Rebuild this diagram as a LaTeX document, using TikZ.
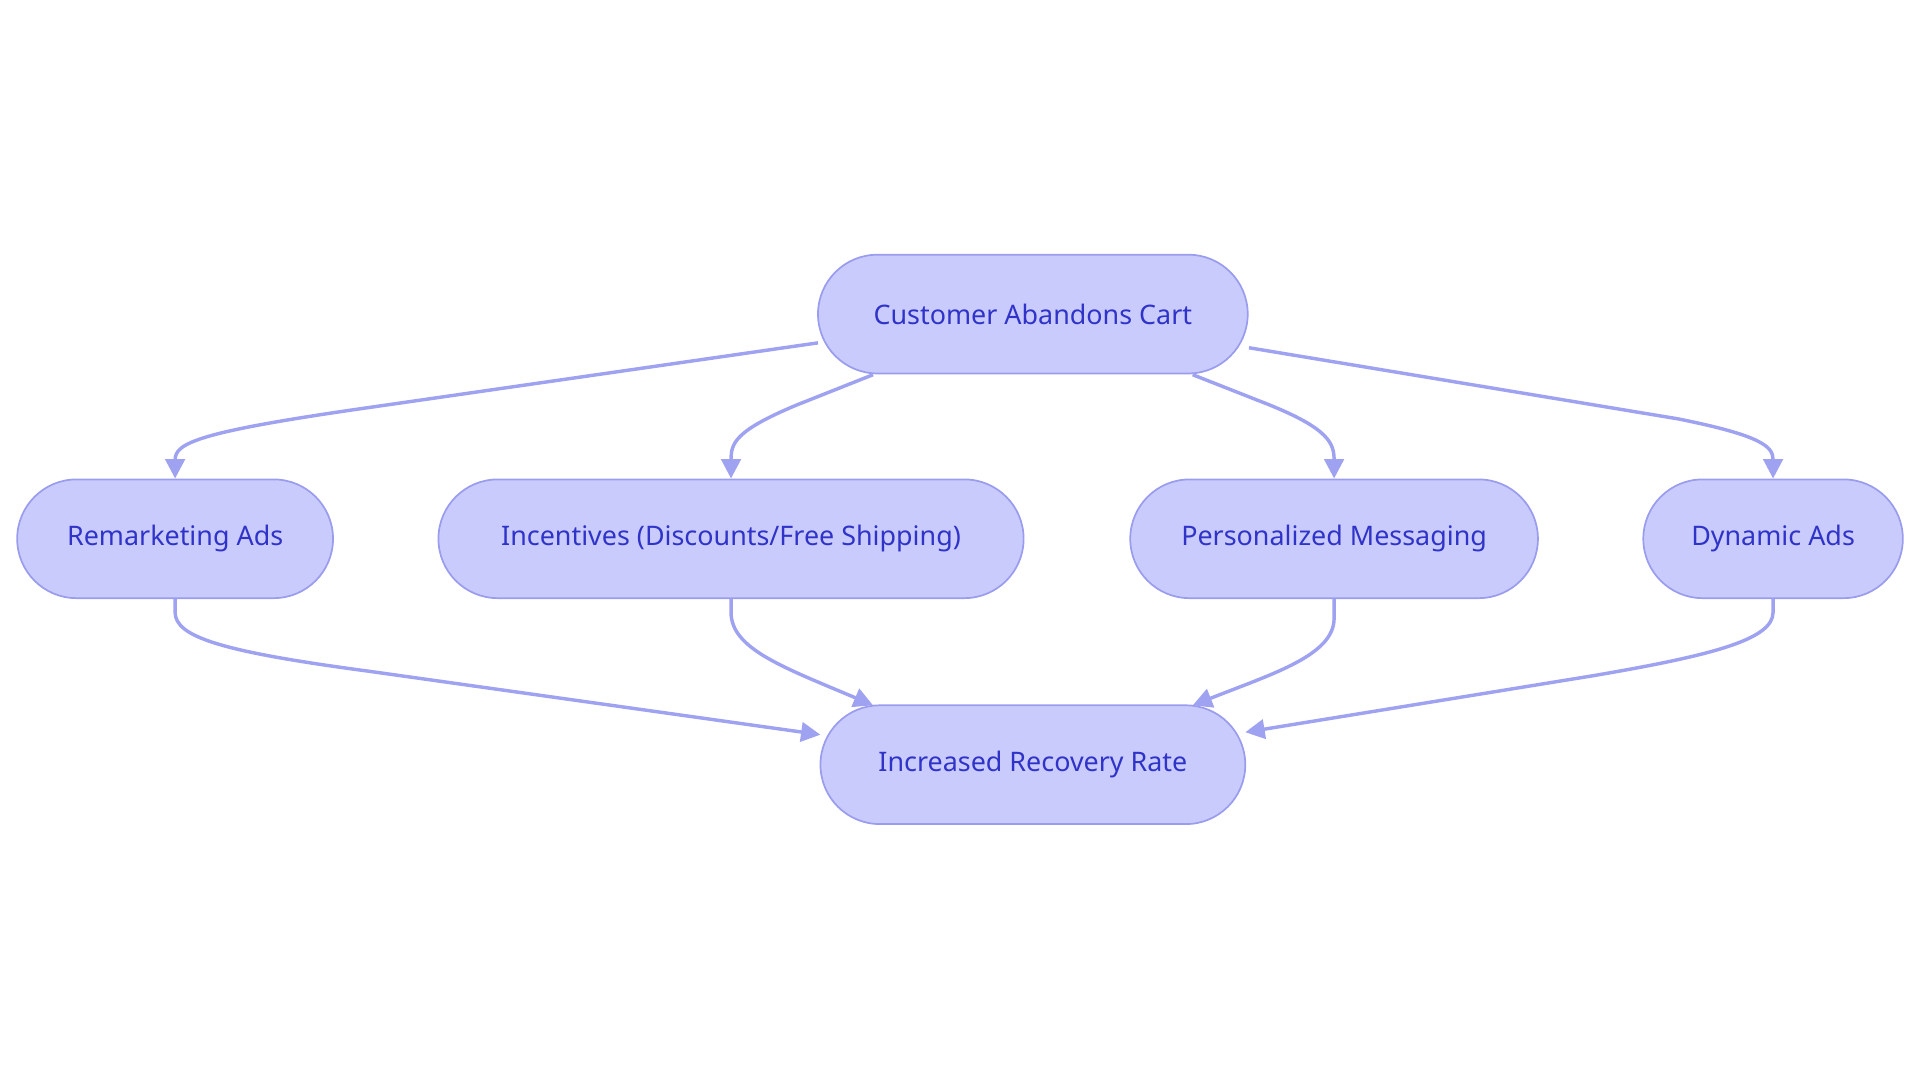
\documentclass[tikz,border=0pt]{standalone}
\usepackage{fontspec}
\setmainfont{Noto Sans}
\usetikzlibrary{arrows.meta}
\definecolor{nfill}{HTML}{CACBFD}
\definecolor{ndraw}{HTML}{9A9CEE}
\definecolor{ntext}{HTML}{2F33C8}
\definecolor{edge}{HTML}{9EA2F0}
\begin{document}
\begin{tikzpicture}[x=0.02cm,y=-0.02cm,
  box/.style={rounded corners=0.97cm,fill=nfill,draw=ndraw,line width=0.8pt,text=ntext,font=\fontsize{12.5}{15}\selectfont,minimum height=1.94cm,inner sep=0pt},
  ar/.style={draw=edge,line width=1.6pt,-{Triangle[length=9pt,width=9pt]}}]
\useasboundingbox (0,0) rectangle (1568,884.4);
\node[box,minimum width=7.02cm] (C) at (843.5,256.5) {Customer Abandons Cart};
\node[box,minimum width=5.16cm] (R) at (143,440) {Remarketing Ads};
\node[box,minimum width=9.56cm] (I) at (597,440) {Incentives (Discounts/Free Shipping)};
\node[box,minimum width=6.66cm] (P) at (1089.5,440) {Personalized Messaging};
\node[box,minimum width=4.24cm] (D) at (1448,440) {Dynamic Ads};
\node[box,minimum width=6.94cm] (X) at (843.5,624.5) {Increased Recovery Rate};
\coordinate (c1) at (668,280);
\coordinate (c2) at (713,306);
\coordinate (c3) at (974,306);
\coordinate (c4) at (1020,284);
\coordinate (x1) at (670,600);
\coordinate (x2) at (713,576);
\coordinate (x3) at (974,576);
\coordinate (x4) at (1017,598);
\draw[ar] (c1) -- (300,333) .. controls (160,353) and (143,362) .. (R.north);
\draw[ar] (c2) -- (650,331) .. controls (600,352) and (597,362) .. (I.north);
\draw[ar] (c3) -- (1035,330) .. controls (1085,350) and (1089.5,362) .. (P.north);
\draw[ar] (c4) -- (1370,342) .. controls (1440,356) and (1448,365) .. (D.north);
\draw[ar] (R.south) -- (143,500) .. controls (143,520) and (180,532) .. (300,548) -- (x1);
\draw[ar] (I.south) -- (597,500) .. controls (597,530) and (640,545) .. (x2);
\draw[ar] (P.south) -- (1089.5,505) .. controls (1089.5,535) and (1040,550) .. (x3);
\draw[ar] (D.south) -- (1448,500) .. controls (1448,522) and (1400,535) .. (1300,552) -- (x4);
\end{tikzpicture}
\end{document}
